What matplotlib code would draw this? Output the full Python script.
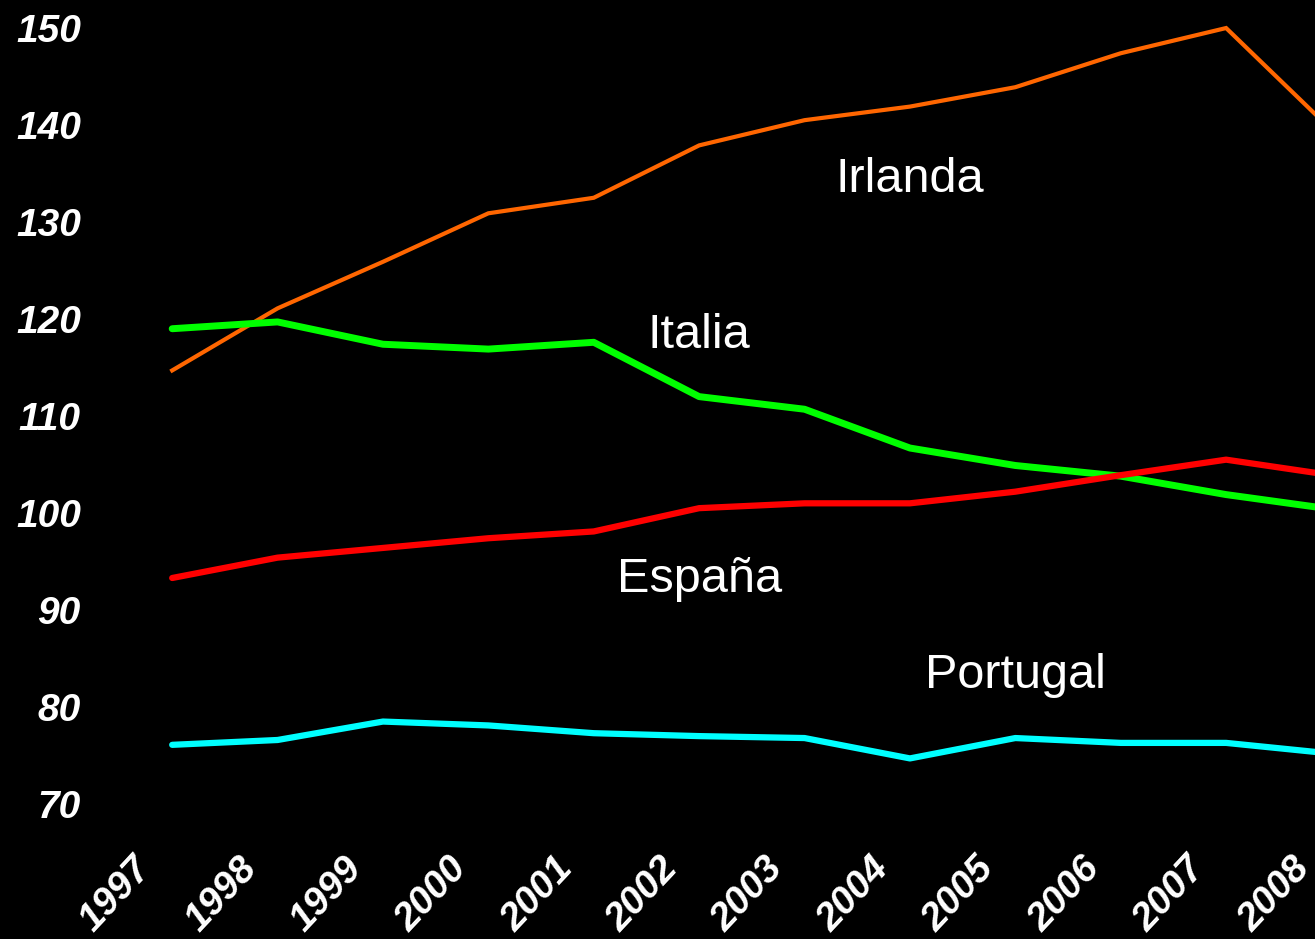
import numpy as np
import matplotlib.pyplot as plt
from matplotlib.transforms import ScaledTranslation

plt.rcParams['font.family'] = ['Liberation Sans', 'DejaVu Sans']

years = np.arange(1997, 2009)
irlanda = [114.7, 121.1, 125.9, 130.9, 132.5, 137.9, 140.5, 141.9, 143.9, 147.4, 150.0, 139.5]
italia = [119.0, 119.7, 117.4, 116.9, 117.6, 112.0, 110.7, 106.7, 104.9, 103.8, 101.9, 100.4]
espana = [93.3, 95.4, 96.4, 97.4, 98.1, 100.5, 101.0, 101.0, 102.2, 103.9, 105.5, 103.9]
portugal = [76.1, 76.6, 78.5, 78.1, 77.3, 77.0, 76.8, 74.7, 76.8, 76.3, 76.3, 75.2]

fig = plt.figure(figsize=(13.15, 9.39), dpi=100, facecolor="black")
# axes runs past the right edge so the last year is cut off like the original
ax = fig.add_axes([110/1315, 109/939, 1290/1315, 830/939])
ax.set_facecolor("black")

ax.plot(years, irlanda, color="#FF6600", lw=3, solid_joinstyle="miter")
ax.plot(years, italia, color="#00FF00", lw=5, solid_capstyle="round")
ax.plot(years, espana, color="#FF0000", lw=4.5, solid_capstyle="round")
ax.plot(years, portugal, color="#00FFFF", lw=4.5, solid_capstyle="round")

txt = dict(color="white", fontsize=35, ha="center", va="baseline")
ax.text(2004.0, 133.1, "Irlanda", **txt)
ax.text(2002.0, 117.0, "Italia", **txt)
ax.text(2002.0, 91.9, "España", **txt)
ax.text(2005.0, 82.0, "Portugal", **txt)

ax.set_xlim(1996.41, 2008.65)
ax.set_ylim(67.32, 152.89)
ax.set_yticks(np.arange(70, 151, 10))
ax.set_xticks(years)
ax.set_xticklabels([])
for lab in ax.get_yticklabels():
    lab.set_fontsize(28)
    lab.set_fontweight("bold")
    lab.set_fontstyle("italic")
    lab.set_color("white")

# year labels sit a bit left of and below each tick
shift = ScaledTranslation(-0.40, -0.21, fig.dpi_scale_trans)
for y in years:
    ax.text(y, 0, str(y), transform=ax.get_xaxis_transform() + shift,
            rotation=47, rotation_mode="anchor", ha="right", va="top",
            fontsize=28, fontweight="bold", fontstyle="italic",
            color="white", clip_on=False)

ax.tick_params(length=0)
ax.tick_params(axis="y", pad=21)
for s in ax.spines.values():
    s.set_visible(False)

plt.savefig("out.png", facecolor="black")
